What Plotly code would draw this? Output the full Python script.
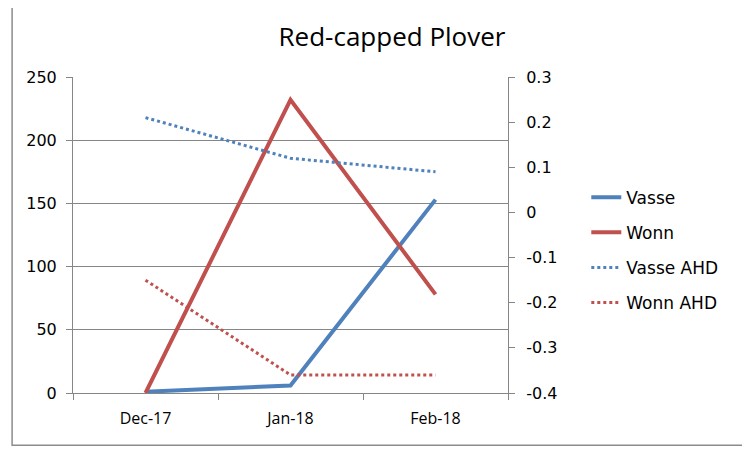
import plotly.graph_objects as go

# data
months = ["Dec-17", "Jan-18", "Feb-18"]
vasse = [1, 6, 153]
wonn = [0, 232, 78]
vasse_ahd = [0.21, 0.12, 0.09]
wonn_ahd = [-0.15, -0.36, -0.36]
right_ticks = [-0.4, -0.3, -0.2, -0.1, 0, 0.1, 0.2, 0.3]
right_labels = ["-0.4", "-0.3", "-0.2", "-0.1", "0", "0.1", "0.2", "0.3"]

blue = "#4F81BD"
red = "#C0504D"
grid = "#868686"

fig = go.Figure()
fig.add_trace(go.Scatter(x=months, y=vasse, name="Vasse", mode="lines",
                         line=dict(color=blue, width=4), legendgroup="a"))
fig.add_trace(go.Scatter(x=months, y=wonn, name="Wonn", mode="lines",
                         line=dict(color=red, width=4), legendgroup="b"))
fig.add_trace(go.Scatter(x=months, y=vasse_ahd, name="Vasse AHD", mode="lines",
                         line=dict(color=blue, width=3, dash="dot"),
                         yaxis="y2", legendgroup="c"))
fig.add_trace(go.Scatter(x=months, y=wonn_ahd, name="Wonn AHD", mode="lines",
                         line=dict(color=red, width=3, dash="dot"),
                         yaxis="y2", legendgroup="d"))

y_font = dict(family="DejaVu Sans, sans-serif", size=16, color="#000")
x_font = dict(family="Open Sans, sans-serif", size=16, color="#000")

# the page has an 8px body margin, so margins are trimmed to keep the plot where it sits
fig.update_layout(
    width=750, height=451,
    margin=dict(l=65, r=250, t=69, b=66),
    paper_bgcolor="white", plot_bgcolor="white",
    title=dict(text="Red-capped Plover", x=0.512, xanchor="center", y=0.936, yanchor="middle",
               font=dict(family="Open Sans, sans-serif", size=26, color="#000")),
    showlegend=True,
    legend=dict(x=1.18, y=0.675, xanchor="left", yanchor="top",
                font=dict(family="DejaVu Sans, sans-serif", size=17, color="#000"),
                tracegroupgap=10, bgcolor="rgba(0,0,0,0)"),
    xaxis=dict(type="category", tickson="boundaries", ticks="outside", ticklen=6,
               tickcolor=grid, showline=True, linecolor=grid, linewidth=1,
               showgrid=False, tickfont=x_font, range=[-0.5, 2.5],
               ticklabelstandoff=11),
    yaxis=dict(range=[0, 250], dtick=50, ticks="outside", ticklen=6, tickcolor=grid,
               showline=True, linecolor=grid, linewidth=1, showgrid=True,
               gridcolor=grid, gridwidth=1, zeroline=False, tickfont=y_font,
               ticklabelstandoff=6),
    yaxis2=dict(range=[-0.4, 0.3], tickvals=right_ticks, ticktext=right_labels,
                overlaying="y", side="right",
                ticks="outside", ticklen=6, tickcolor=grid, showline=True,
                linecolor=grid, linewidth=1, showgrid=False, zeroline=False,
                tickfont=y_font, ticklabelstandoff=8),
)

# outer chart border (the Excel chart frame)
fig.add_shape(type="rect", xref="paper", yref="paper",
              x0=-0.14, x1=1.7, y0=-0.165, y1=1.24,
              line=dict(color="#8c8c8c", width=1.5), layer="below")

fig.write_html("out.html")
